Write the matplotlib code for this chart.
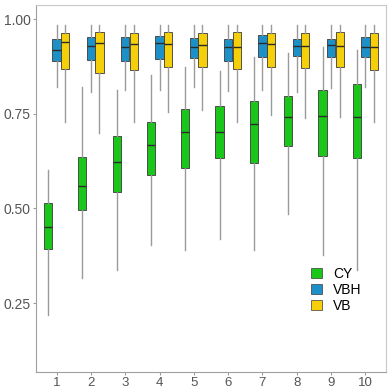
import matplotlib
matplotlib.use("Agg")
import matplotlib.pyplot as plt
from matplotlib.patches import Patch

plt.rcParams['font.family'] = ['Liberation Sans', 'DejaVu Sans']

groups = [1, 2, 3, 4, 5, 6, 7, 8, 9, 10]
series = ["CY", "VBH", "VB"]

# [whislo, q1, median, q3, whishi] per group
CY = [
    [0.218, 0.393, 0.451, 0.514, 0.601],
    [0.316, 0.496, 0.559, 0.636, 0.820],
    [0.337, 0.543, 0.622, 0.691, 0.813],
    [0.403, 0.588, 0.667, 0.728, 0.852],
    [0.390, 0.607, 0.702, 0.762, 0.873],
    [0.419, 0.633, 0.702, 0.770, 0.863],
    [0.390, 0.620, 0.723, 0.783, 0.900],
    [0.485, 0.665, 0.741, 0.797, 0.910],
    [0.377, 0.638, 0.744, 0.812, 0.926],
    [0.337, 0.633, 0.741, 0.828, 0.918],
]
VBH = [
    [0.820, 0.889, 0.918, 0.947, 0.984],
    [0.807, 0.892, 0.929, 0.952, 0.984],
    [0.813, 0.889, 0.926, 0.952, 0.984],
    [0.813, 0.894, 0.937, 0.955, 0.984],
    [0.820, 0.897, 0.926, 0.950, 0.984],
    [0.810, 0.889, 0.926, 0.947, 0.984],
    [0.813, 0.900, 0.937, 0.958, 0.984],
    [0.807, 0.902, 0.929, 0.947, 0.984],
    [0.818, 0.900, 0.931, 0.947, 0.984],
    [0.820, 0.900, 0.926, 0.952, 0.984],
]
VB = [
    [0.728, 0.868, 0.939, 0.963, 0.984],
    [0.699, 0.857, 0.937, 0.966, 0.984],
    [0.728, 0.865, 0.934, 0.963, 0.984],
    [0.754, 0.873, 0.934, 0.966, 0.984],
    [0.760, 0.873, 0.931, 0.963, 0.984],
    [0.728, 0.868, 0.926, 0.966, 0.984],
    [0.747, 0.873, 0.934, 0.963, 0.984],
    [0.739, 0.871, 0.929, 0.963, 0.984],
    [0.741, 0.873, 0.929, 0.966, 0.984],
    [0.728, 0.865, 0.926, 0.963, 0.984],
]
y_ticks = [0.25, 0.50, 0.75, 1.00]
y_tick_labels = ["0.25", "0.50", "0.75", "1.00"]

colors = {"CY": "#19C619", "VBH": "#1E90C8", "VB": "#F5CF0A"}
offsets = {"CY": -0.25, "VBH": 0.0, "VB": 0.25}
data = {"CY": CY, "VBH": VBH, "VB": VB}

fig = plt.figure(figsize=(3.91, 3.90), dpi=100)
ax = fig.add_axes([36/391, 1-372/390, (386-36)/391, (372-5)/390])

for s in series:
    stats = []
    for vals in data[s]:
        lo, q1, med, q3, hi = vals
        stats.append(dict(whislo=lo, q1=q1, med=med, q3=q3, whishi=hi, fliers=[]))
    pos = [g + offsets[s] for g in groups]
    ax.bxp(stats, positions=pos, widths=0.24, showfliers=False, showcaps=False,
           patch_artist=True,
           boxprops=dict(facecolor=colors[s], edgecolor="#3a3a3a", linewidth=0.6),
           medianprops=dict(color="#2a2a2a", linewidth=1.0),
           whiskerprops=dict(color="#9a9a9a", linewidth=1.0),
           manage_ticks=False, zorder=3)

ax.set_xlim(0.4, 10.6)
ax.set_ylim(0.068, 1.037)
ax.set_xticks(groups)
ax.set_xticklabels([str(g) for g in groups])
ax.set_yticks(y_ticks)
ax.set_yticklabels(y_tick_labels)
ax.tick_params(colors="#9a9a9a", labelcolor="#555555", labelsize=10, length=2.5, width=0.8)
ax.tick_params(axis="x", pad=0.8, labelsize=9.5)
ax.tick_params(axis="y", pad=1.5)
for sp in ax.spines.values():
    sp.set_color("#c8c8c8")
    sp.set_linewidth(0.8)
ax.spines['left'].set_color("#a0a0a0")
ax.spines['bottom'].set_color("#a0a0a0")

handles = [Patch(facecolor=colors[s], edgecolor="#3a3a3a", linewidth=0.5, label=s) for s in series]
ax.legend(handles=handles, loc="upper left", bbox_to_anchor=((301-36)/350, 1-(257-5)/367),
          frameon=False, fontsize=10, handlelength=0.8, handleheight=0.8,
          handletextpad=0.8, labelspacing=0.15, borderpad=0.2)

fig.savefig("out.png", dpi=100)
